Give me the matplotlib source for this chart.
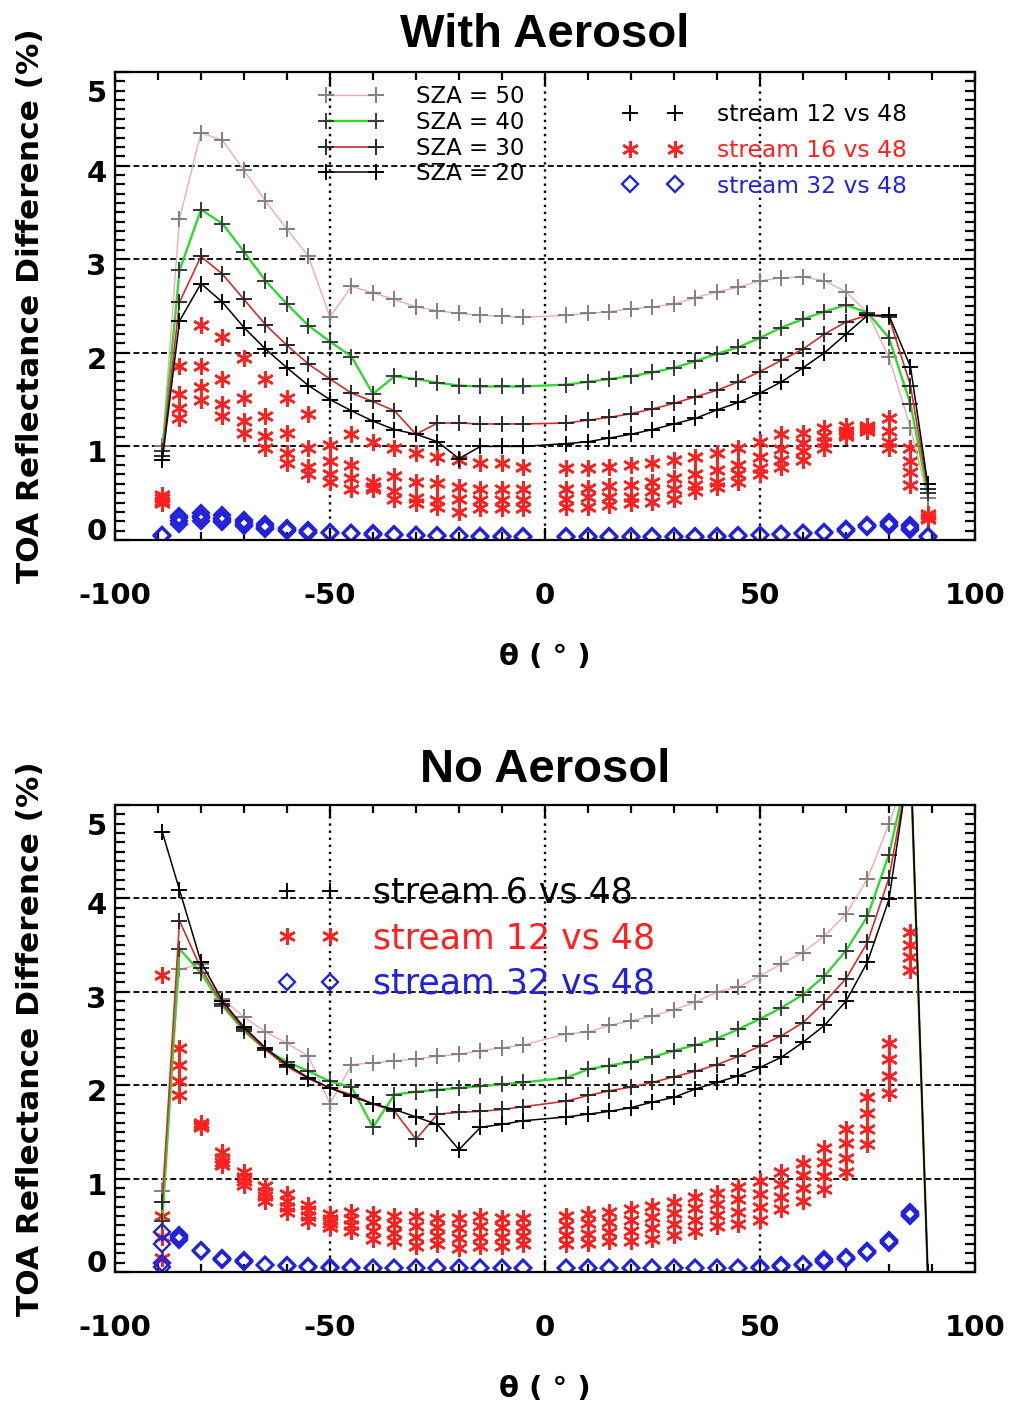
import numpy as np
import matplotlib
matplotlib.use("Agg")
import matplotlib.pyplot as plt
from matplotlib.lines import Line2D
from matplotlib.ticker import MultipleLocator
import matplotlib.transforms as mtransforms

nan = float("nan")

# ---------------- data ----------------
theta = [-89, -85, -80, -75, -70, -65, -60, -55, -50, -45, -40, -35, -30, -25, -20, -15, -10, -5,
         5, 10, 15, 20, 25, 30, 35, 40, 45, 50, 55, 60, 65, 70, 75, 80, 85, 89]

# With aerosol: stream 12 vs 48 (lines), per SZA
aer_s12_sza50 = [1.00, 3.43, 4.35, 4.27, 3.95, 3.62, 3.32, 3.03, 2.38, 2.71, 2.64, 2.57, 2.49, 2.45, 2.42, 2.40, 2.39, 2.38,
                 2.40, 2.42, 2.44, 2.47, 2.49, 2.52, 2.59, 2.65, 2.70, 2.77, 2.80, 2.81, 2.77, 2.65, 2.43, 1.95, 1.20, 0.45]
aer_s12_sza40 = [0.95, 2.88, 3.53, 3.38, 3.08, 2.77, 2.52, 2.29, 2.12, 1.96, 1.56, 1.75, 1.72, 1.68, 1.65, 1.64, 1.64, 1.64,
                 1.66, 1.69, 1.72, 1.75, 1.79, 1.84, 1.91, 1.99, 2.06, 2.16, 2.27, 2.36, 2.44, 2.51, 2.43, 2.16, 1.45, 0.50]
aer_s12_sza30 = [0.90, 2.54, 3.03, 2.84, 2.57, 2.30, 2.08, 1.88, 1.72, 1.57, 1.48, 1.38, 1.13, 1.25, 1.25, 1.24, 1.24, 1.24,
                 1.25, 1.28, 1.31, 1.35, 1.40, 1.46, 1.53, 1.60, 1.69, 1.80, 1.92, 2.04, 2.20, 2.33, 2.40, 2.38, 1.65, 0.55]
aer_s12_sza20 = [0.85, 2.34, 2.74, 2.54, 2.27, 2.04, 1.84, 1.65, 1.50, 1.38, 1.27, 1.18, 1.13, 1.05, 0.87, 1.00, 1.00, 1.00,
                 1.03, 1.05, 1.09, 1.13, 1.18, 1.24, 1.30, 1.39, 1.47, 1.57, 1.69, 1.84, 2.00, 2.20, 2.40, 2.40, 1.85, 0.60]

# With aerosol: stream 16 vs 48 (red asterisks)
aer_s16_sza50 = [0.48, 1.86, 2.30, 2.17, 1.94, 1.72, 1.52, 1.35, 1.02, 1.13, 1.05, 0.98, 0.93, 0.89, 0.86, 0.82, 0.82, 0.78,
                 0.77, 0.77, 0.78, 0.80, 0.82, 0.86, 0.89, 0.93, 0.98, 1.05, 1.13, 1.14, 1.20, 1.22, 1.22, 1.30, 0.98, 0.28]
aer_s16_sza40 = [0.45, 1.56, 1.86, 1.72, 1.52, 1.32, 1.14, 0.98, 0.84, 0.80, 0.62, 0.68, 0.62, 0.61, 0.57, 0.55, 0.55, 0.54,
                 0.55, 0.56, 0.58, 0.59, 0.62, 0.66, 0.71, 0.75, 0.80, 0.89, 0.97, 1.04, 1.11, 1.16, 1.20, 1.16, 0.84, 0.27]
aer_s16_sza30 = [0.42, 1.41, 1.63, 1.45, 1.27, 1.11, 0.93, 0.78, 0.70, 0.66, 0.57, 0.52, 0.45, 0.43, 0.44, 0.43, 0.43, 0.43,
                 0.44, 0.46, 0.46, 0.46, 0.52, 0.55, 0.59, 0.62, 0.70, 0.77, 0.86, 0.95, 1.05, 1.13, 1.18, 1.05, 0.73, 0.23]
aer_s16_sza20 = [0.40, 1.30, 1.50, 1.32, 1.14, 0.98, 0.82, 0.71, 0.62, 0.55, 0.54, 0.44, 0.40, 0.35, 0.30, 0.34, 0.34, 0.34,
                 0.35, 0.35, 0.37, 0.39, 0.41, 0.44, 0.52, 0.57, 0.62, 0.70, 0.78, 0.86, 0.98, 1.11, 1.16, 0.98, 0.59, 0.22]

# With aerosol: stream 32 vs 48 (blue diamonds)
aer_s32_sza50 = [0.05, 0.26, 0.29, 0.27, 0.21, 0.17, 0.13, 0.11, 0.09, 0.08, 0.07, 0.06, 0.05, 0.05, 0.04, 0.04, 0.04, 0.04,
                 0.04, 0.04, 0.04, 0.04, 0.04, 0.04, 0.04, 0.04, 0.05, 0.05, 0.06, 0.07, 0.09, 0.12, 0.16, 0.19, 0.16, 0.04]
aer_s32_sza40 = [0.05, 0.23, 0.26, 0.24, 0.19, 0.15, 0.12, 0.10, 0.08, 0.07, 0.06, 0.05, 0.05, 0.04, 0.04, 0.04, 0.04, 0.03,
                 0.03, 0.03, 0.03, 0.03, 0.03, 0.03, 0.03, 0.04, 0.04, 0.05, 0.06, 0.07, 0.09, 0.12, 0.16, 0.18, 0.14, 0.04]
aer_s32_sza30 = [0.04, 0.20, 0.23, 0.21, 0.17, 0.13, 0.11, 0.09, 0.07, 0.07, 0.06, 0.05, 0.05, 0.04, 0.04, 0.03, 0.03, 0.03,
                 0.03, 0.03, 0.03, 0.03, 0.03, 0.03, 0.03, 0.03, 0.04, 0.05, 0.06, 0.07, 0.08, 0.11, 0.15, 0.16, 0.12, 0.03]
aer_s32_sza20 = [0.04, 0.17, 0.20, 0.19, 0.15, 0.12, 0.10, 0.08, 0.07, 0.06, 0.05, 0.05, 0.04, 0.04, 0.04, 0.03, 0.03, 0.03,
                 0.03, 0.03, 0.03, 0.03, 0.03, 0.03, 0.03, 0.03, 0.04, 0.05, 0.05, 0.06, 0.08, 0.10, 0.14, 0.15, 0.11, 0.03]

# No aerosol: stream 6 vs 48 (lines)
noa_s6_sza50 = [0.87, 3.24, 3.30, 2.92, 2.73, 2.57, 2.45, 2.31, 1.80, 2.22, 2.24, 2.26, 2.28, 2.31, 2.33, 2.37, 2.40, 2.43,
                2.55, 2.57, 2.64, 2.69, 2.74, 2.81, 2.89, 3.00, 3.05, 3.17, 3.30, 3.42, 3.60, 3.83, 4.21, 4.80, 5.45, 0.00]
noa_s6_sza40 = [0.55, 3.46, 3.20, 2.85, 2.58, 2.38, 2.25, 2.15, 2.04, 1.98, 1.55, 1.90, 1.93, 1.95, 1.97, 1.99, 2.01, 2.03,
                2.08, 2.17, 2.21, 2.25, 2.30, 2.37, 2.43, 2.50, 2.60, 2.71, 2.83, 2.97, 3.17, 3.44, 3.81, 4.47, 5.50, 0.00]
noa_s6_sza30 = [0.75, 3.76, 3.25, 2.87, 2.60, 2.38, 2.20, 2.07, 1.97, 1.90, 1.80, 1.72, 1.42, 1.69, 1.71, 1.72, 1.74, 1.77,
                1.83, 1.89, 1.94, 1.98, 2.03, 2.09, 2.15, 2.22, 2.31, 2.42, 2.53, 2.67, 2.89, 3.14, 3.53, 4.22, 5.50, 0.00]
noa_s6_sza20 = [4.71, 4.09, 3.32, 2.90, 2.62, 2.40, 2.22, 2.08, 1.97, 1.88, 1.80, 1.74, 1.66, 1.58, 1.31, 1.55, 1.58, 1.62,
                1.66, 1.69, 1.72, 1.76, 1.82, 1.87, 1.96, 2.03, 2.10, 2.19, 2.30, 2.46, 2.64, 2.90, 3.32, 3.99, 5.55, 0.00]

# No aerosol: stream 12 vs 48 (red asterisks)
noa_s12_sza50 = [0.60, 2.40, 1.60, 1.28, 1.07, 0.92, 0.83, 0.72, 0.62, 0.64, 0.62, 0.60, 0.60, 0.58, 0.58, 0.60, 0.58, 0.58,
                 0.60, 0.62, 0.64, 0.67, 0.71, 0.75, 0.80, 0.85, 0.91, 0.97, 1.07, 1.17, 1.33, 1.53, 1.87, 2.45, 3.64, nan]
noa_s12_sza40 = [0.38, 2.22, 1.58, 1.22, 1.02, 0.86, 0.76, 0.66, 0.57, 0.57, 0.53, 0.51, 0.49, 0.48, 0.47, 0.49, 0.48, 0.48,
                 0.50, 0.52, 0.54, 0.56, 0.59, 0.63, 0.68, 0.73, 0.78, 0.83, 0.94, 1.04, 1.18, 1.38, 1.70, 2.28, 3.50, nan]
noa_s12_sza30 = [0.15, 2.05, 1.56, 1.18, 0.97, 0.81, 0.70, 0.60, 0.52, 0.50, 0.44, 0.42, 0.38, 0.39, 0.36, 0.38, 0.38, 0.39,
                 0.40, 0.41, 0.43, 0.44, 0.47, 0.51, 0.56, 0.61, 0.64, 0.70, 0.80, 0.90, 1.03, 1.22, 1.53, 2.10, 3.37, nan]
noa_s12_sza20 = [3.18, 1.90, 1.55, 1.15, 0.93, 0.76, 0.64, 0.55, 0.48, 0.44, 0.35, 0.33, 0.28, 0.30, 0.26, 0.28, 0.28, 0.30,
                 0.30, 0.31, 0.33, 0.33, 0.35, 0.40, 0.44, 0.49, 0.51, 0.56, 0.67, 0.76, 0.89, 1.07, 1.37, 1.92, 3.23, nan]

# No aerosol: stream 32 vs 48 (blue diamonds)
noa_s32_sza50 = [0.43, 0.40, 0.24, 0.15, 0.13, 0.08, 0.07, 0.06, 0.05, 0.05, 0.04, 0.04, 0.04, 0.04, 0.04, 0.04, 0.04, 0.04,
                 0.04, 0.04, 0.04, 0.04, 0.04, 0.04, 0.04, 0.04, 0.04, 0.05, 0.07, 0.09, 0.14, 0.16, 0.23, 0.34, 0.64, nan]
noa_s32_sza40 = [0.30, 0.38, 0.23, 0.14, 0.12, 0.08, 0.06, 0.05, 0.05, 0.04, 0.04, 0.04, 0.04, 0.04, 0.04, 0.04, 0.04, 0.04,
                 0.04, 0.04, 0.04, 0.04, 0.04, 0.04, 0.04, 0.04, 0.04, 0.05, 0.06, 0.08, 0.13, 0.15, 0.22, 0.33, 0.62, nan]
noa_s32_sza30 = [0.10, 0.36, 0.23, 0.14, 0.12, 0.07, 0.06, 0.05, 0.04, 0.04, 0.04, 0.04, 0.04, 0.04, 0.04, 0.04, 0.04, 0.04,
                 0.04, 0.04, 0.04, 0.04, 0.04, 0.04, 0.04, 0.04, 0.04, 0.04, 0.06, 0.08, 0.12, 0.14, 0.21, 0.32, 0.61, nan]
noa_s32_sza20 = [0.05, 0.34, 0.22, 0.13, 0.11, 0.07, 0.06, 0.05, 0.04, 0.04, 0.04, 0.04, 0.04, 0.04, 0.04, 0.04, 0.04, 0.04,
                 0.04, 0.04, 0.04, 0.04, 0.04, 0.04, 0.04, 0.04, 0.04, 0.04, 0.05, 0.07, 0.11, 0.14, 0.20, 0.31, 0.60, nan]

sza_labels = ["SZA = 50", "SZA = 40", "SZA = 30", "SZA = 20"]
x_ticks = [-100, -50, 0, 50, 100]
y_ticks = [0, 1, 2, 3, 4, 5]

# ---------------- style ----------------
plt.rcParams.update({
    "font.family": ["DejaVu Sans"],
    "font.weight": "bold",
    "axes.unicode_minus": False,
})

RED = "#ff2020"
BLUE = "#2222dd"
line_style = [
    dict(color="#f2a7b8", lw=1.0, mec="#808080"),   # SZA 50
    dict(color="#2fd82f", lw=1.7, mec="#3a3a3a"),   # SZA 40
    dict(color="#d62b2b", lw=1.2, mec="#2a2a2a"),   # SZA 30
    dict(color="#000000", lw=1.1, mec="#000000"),   # SZA 20
]
PLUS = dict(marker="+", ms=11, mew=1.4)
AST = dict(marker=(6, 2, 0), ms=12, mew=1.8, color=RED, ls="none")
DIA = dict(marker="D", ms=8, mfc="none", mec=BLUE, mew=1.7, ls="none")

fig = plt.figure(figsize=(10.12, 14.10), dpi=100)
W, H = 1012.0, 1410.0
ax1 = fig.add_axes([115 / W, 1 - 540 / H, 860 / W, 468 / H])
ax2 = fig.add_axes([115 / W, 1 - 1272 / H, 860 / W, 467 / H])

th = np.array(theta, dtype=float)


def style_axes(ax, title, title_pad):
    ax.set_xlim(-100, 100)
    ax.set_ylim(0, 5)
    ax.set_xticks(x_ticks)
    ax.set_yticks(y_ticks)
    ax.xaxis.set_minor_locator(MultipleLocator(10))
    ax.yaxis.set_minor_locator(MultipleLocator(0.1))
    ax.tick_params(which="both", direction="in", top=True, right=True,
                   color="black", width=1.6)
    ax.tick_params(axis="x", which="major", length=9)
    ax.tick_params(axis="y", which="major", length=11)
    ax.tick_params(axis="x", which="minor", length=6)
    ax.tick_params(axis="y", which="minor", length=7)
    ax.tick_params(axis="x", which="major", pad=30, labelsize=21)
    ax.tick_params(axis="y", which="major", pad=6, labelsize=21)
    for sp in ax.spines.values():
        sp.set_linewidth(1.6)
    ax.grid(axis="y", which="major", color="black", lw=1.3, ls=(0, (3.3, 1.8)))
    ax.grid(axis="x", which="major", color="black", lw=1.7, ls=(0, (1, 2.0)))
    ax.set_xlabel("θ ( ° )", fontsize=21, fontweight="bold", labelpad=24)
    ax.set_ylabel("TOA Reflectance Difference (%)", fontsize=22.5, fontweight="bold", labelpad=30)
    ax.set_title(title, fontsize=34, fontweight="bold", family="Liberation Sans", pad=title_pad)
    # nudge y tick labels like the original (end labels pulled inward)
    for tick, val in zip(ax.yaxis.get_major_ticks(), y_ticks):
        dy = -5
        if val == 0:
            dy = 11
        elif val == 5:
            dy = -19
        off = mtransforms.ScaledTranslation(0, dy / 100.0, fig.dpi_scale_trans)
        tick.label1.set_transform(tick.label1.get_transform() + off)


# ---------------- top panel ----------------
for s16 in [aer_s16_sza50, aer_s16_sza40, aer_s16_sza30, aer_s16_sza20]:
    ax1.plot(th, s16, **AST)
for s32 in [aer_s32_sza50, aer_s32_sza40, aer_s32_sza30, aer_s32_sza20]:
    ax1.plot(th, s32, **DIA)
hnd = []
for ys, st in zip([aer_s12_sza50, aer_s12_sza40, aer_s12_sza30, aer_s12_sza20], line_style):
    h, = ax1.plot(th, ys, color=st["color"], lw=st["lw"], mec=st["mec"], **PLUS)
    hnd.append(h)

style_axes(ax1, "With Aerosol", 18)

leg1 = ax1.legend(hnd, sza_labels, loc="upper left", bbox_to_anchor=(-52.6, 4.86),
                  bbox_transform=ax1.transData, frameon=False, numpoints=2,
                  handlelength=2.78, handletextpad=1.45, labelspacing=0.12,
                  borderpad=0, borderaxespad=0,
                  prop=dict(family="DejaVu Sans", weight="normal", size=16.5))
ax1.add_artist(leg1)

h_a = [Line2D([], [], color="black", ls="none", **PLUS),
       Line2D([], [], **AST),
       Line2D([], [], **DIA)]
ax1.legend(h_a, ["stream 12 vs 48", "stream 16 vs 48", "stream 32 vs 48"],
           loc="upper left", bbox_to_anchor=(18.1, 4.67), bbox_transform=ax1.transData,
           frameon=False, numpoints=2, handlelength=2.53, handletextpad=1.49,
           labelspacing=0.55, borderpad=0, borderaxespad=0,
           labelcolor=["black", RED, BLUE],
           prop=dict(family="DejaVu Sans", weight="normal", size=16.8))

# ---------------- bottom panel ----------------
for s12 in [noa_s12_sza50, noa_s12_sza40, noa_s12_sza30, noa_s12_sza20]:
    ax2.plot(th, s12, **AST)
for s32 in [noa_s32_sza50, noa_s32_sza40, noa_s32_sza30, noa_s32_sza20]:
    ax2.plot(th, s32, **DIA)
for ys, st in zip([noa_s6_sza50, noa_s6_sza40, noa_s6_sza30, noa_s6_sza20], line_style):
    ax2.plot(th, ys, color=st["color"], lw=st["lw"], mec=st["mec"], **PLUS)

style_axes(ax2, "No Aerosol", 16.5)

h_b = [Line2D([], [], color="black", ls="none", **PLUS),
       Line2D([], [], **AST),
       Line2D([], [], **DIA)]
ax2.legend(h_b, ["stream 6 vs 48", "stream 12 vs 48", "stream 32 vs 48"],
           loc="upper left", bbox_to_anchor=(-62.4, 4.24), bbox_transform=ax2.transData,
           frameon=False, numpoints=2, handlelength=1.84, handletextpad=0.94,
           labelspacing=0.33, borderpad=0, borderaxespad=0,
           labelcolor=["black", RED, BLUE],
           prop=dict(family="DejaVu Sans", weight="normal", size=25))

fig.savefig("out.png", dpi=100)
